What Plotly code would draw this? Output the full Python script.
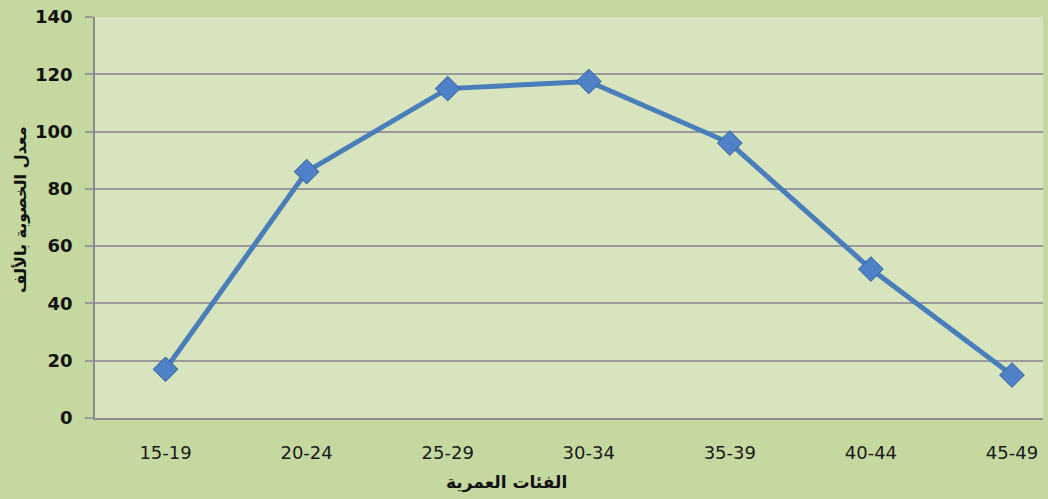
import plotly.graph_objects as go

categories = ["15-19", "20-24", "25-29", "30-34", "35-39", "40-44", "45-49"]
fertility = [17, 86, 115, 117.5, 96, 52, 15]
y_ticks = [0, 20, 40, 60, 80, 100, 120, 140]

fig = go.Figure()
fig.add_trace(go.Scatter(
    x=list(range(len(categories))), y=fertility, mode="lines+markers",
    line=dict(color="#4a7ebb", width=5),
    marker=dict(symbol="diamond", size=19, color="#4f81c7",
                line=dict(color="#2f5f9a", width=1)),
    hoverinfo="skip",
))

L, R, T, B = 95, 5, 17, 81
W, H = 1048, 499
pw, ph = W - L - R, H - T - B

fig.update_layout(
    width=W, height=H,
    margin=dict(l=L, r=R, t=T, b=B),
    paper_bgcolor="#c5d89f",
    plot_bgcolor="#d8e4bd",
    showlegend=False,
    font=dict(family="DejaVu Sans, Arial", color="#1a1a1a"),
    xaxis=dict(
        tickmode="array", tickvals=list(range(len(categories))), ticktext=categories,
        range=[-0.5, 6.22], showgrid=False, zeroline=False,
        showline=True, linecolor="#8c8c8c", linewidth=1.5,
        ticks="", tickfont=dict(size=18, color="#1a1a1a", family="DejaVu Sans"),
        ticklabelstandoff=18,
    ),
    yaxis=dict(
        range=[0, 140], tickvals=y_ticks, showgrid=True, gridcolor="#9a9a9a",
        gridwidth=1.5, zeroline=False, showline=True, linecolor="#8c8c8c",
        linewidth=1.5, ticks="outside", ticklen=8, tickcolor="#9a9a9a",
        tickwidth=1.5,
        tickfont=dict(size=18, color="#111111", family="DejaVu Sans", weight="bold"),
        ticklabelstandoff=9,
    ),
    annotations=[
        dict(text="<b>الفئات العمرية</b>", xref="paper", yref="paper",
             x=(506 - L) / pw, y=-(482 - (T + ph)) / ph, showarrow=False,
             yanchor="middle",
             font=dict(size=17, family="DejaVu Sans, Noto Sans", color="#111111")),
        dict(text="<b>معدل الخصوبة بالألف</b>", xref="paper", yref="paper",
             x=-(L - 20) / pw, xanchor="center", y=1 - (210 - T) / ph, yanchor="middle",
             textangle=-90, showarrow=False,
             font=dict(size=16, family="DejaVu Sans, Noto Sans", color="#111111")),
    ],
)

fig.write_html("out.html", config={"displayModeBar": False},
               post_script="document.body.style.margin='0';document.body.style.background='#c5d89f';")
